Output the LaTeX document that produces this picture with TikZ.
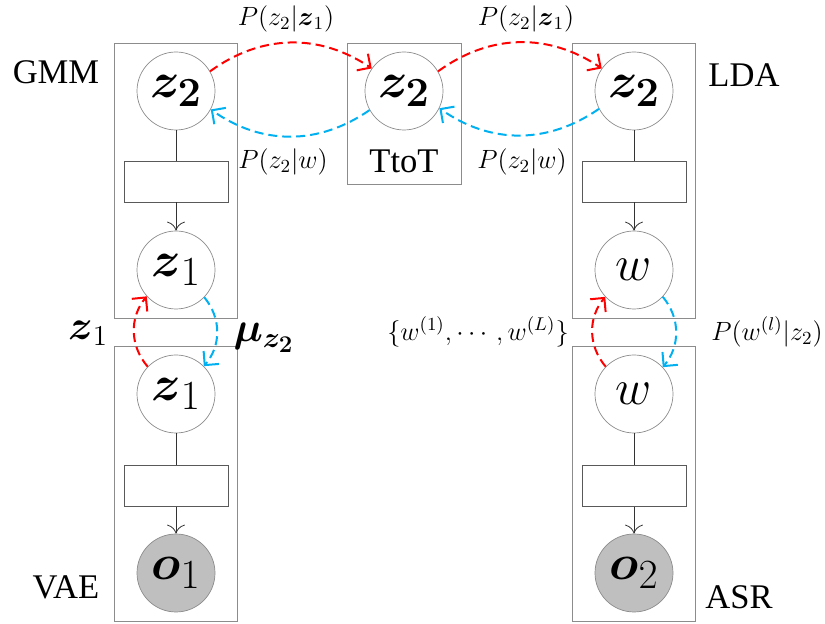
\documentclass[tikz,border=0pt]{standalone}
\usepackage{fix-cm}
\usepackage{amsmath}
\usepackage[no-math]{fontspec}
\setmainfont{Liberation Serif}
\usetikzlibrary{arrows.meta}
\definecolor{arcblue}{RGB}{0,176,240}

\tikzset{
  plate/.style={draw=gray!90, line width=0.5pt, inner sep=0pt},
  var/.style={circle, draw=gray!90, line width=0.35pt, minimum size=39pt, inner sep=0pt, font=\Huge},
  obs/.style={var, fill=gray!50},
  factor/.style={draw=gray!70!black, line width=0.45pt, minimum width=52pt, minimum height=20.5pt, inner sep=0pt},
  link/.style={draw=black!80, line width=0.4pt},
  arc/.style={line width=1pt, dash pattern=on 4.5pt off 2.5pt, -{Straight Barb[length=5pt,width=10pt]}},
  redarc/.style={arc, red},
  bluearc/.style={arc, arcblue},
  model/.style={font=\LARGE},
  plabel/.style={font=\fontsize{13.2}{16}\selectfont}
}

\begin{document}
\begin{tikzpicture}[x=0.5pt,y=-0.5pt]
  \useasboundingbox (0,0) rectangle (825,624);
  % upper plates: top variable, factor, then the shared variable
  \foreach \p/\x/\a/\b in {gmm/176/{\boldsymbol{z_2}}/{\boldsymbol{z}_1}, lda/634/{\boldsymbol{z_2}}/{w}} {
    \node[plate, minimum width=61.5pt, minimum height=137.5pt] (\p) at (\x,181.5) {};
    \node[var] (\p a) at (\x,91) {$\a$};
    \node[factor] (\p f) at (\x,181.5) {};
    \node[var] (\p b) at (\x,270) {$\b$};
    \draw[link] (\p a) -- (\p f);
    \draw[link,-{To[length=4.5pt,width=9pt]}] (\p f) -- (\p b);
  }
  % lower plates end in an observed node
  \foreach \p/\x/\a/\b in {vae/176/{\boldsymbol{z}_1}/{\boldsymbol{o}_1}, asr/634/{w}/{\boldsymbol{o}_2}} {
    \node[plate, minimum width=61.5pt, minimum height=137.5pt] (\p) at (\x,484.5) {};
    \node[var] (\p a) at (\x,394) {$\a$};
    \node[factor] (\p f) at (\x,486) {};
    \node[obs] (\p b) at (\x,573) {$\b$};
    \draw[link] (\p a) -- (\p f);
    \draw[link,-{To[length=4.5pt,width=9pt]}] (\p f) -- (\p b);
  }
  % topic-to-topic plate in the middle
  \node[plate, minimum width=57pt, minimum height=70.5pt] (ttot) at (404,114.5) {};
  \node[var] (tt) at (404,91) {$\boldsymbol{z_2}$};
  \node[model] (ttotlabel) at (404,161) {TtoT};

  \node[model] (gmmlabel) at (56,72) {GMM};
  \node[model] (ldalabel) at (744,75) {LDA};
  \node[model] (vaelabel) at (66,587) {VAE};
  \node[model] (asrlabel) at (739,597) {ASR};

  % horizontal messages
  \draw[redarc] (gmma.30) to[bend left=35] (tt.145);
  \draw[bluearc] (tt.209) to[bend left=35] (gmma.-28);
  \draw[redarc] (tt.30) to[bend left=35] (ldaa.145);
  \draw[bluearc] (ldaa.207) to[bend left=35] (tt.-26);
  \node[plabel] (p1) at (286,19) {$P(z_2|\boldsymbol{z}_1)$};
  \node[plabel] (p2) at (526,19) {$P(z_2|\boldsymbol{z}_1)$};
  \node[plabel] (p3) at (283,162) {$P(z_2|w)$};
  \node[plabel] (p4) at (522,162) {$P(z_2|w)$};

  % vertical messages
  \draw[redarc] (vaea.136) to[bend left=40] (gmmb.222);
  \draw[bluearc] (gmmb.-44) to[bend left=40] (vaea.45);
  \draw[redarc] (asra.136) to[bend left=40] (ldab.223);
  \draw[bluearc] (ldab.-43) to[bend left=40] (asra.43);
  \node[font=\huge] (zlab) at (88,333) {$\boldsymbol{z}_1$};
  \node[font=\huge] (mulab) at (264,338) {$\boldsymbol{\mu_{z_2}}$};
  \node[plabel] (wset) at (478,332) {$\{w^{(1)},\cdots,w^{(L)}\}$};
  \node[plabel] (pw) at (767,332) {$P(w^{(l)}|z_2)$};
\end{tikzpicture}
\end{document}
